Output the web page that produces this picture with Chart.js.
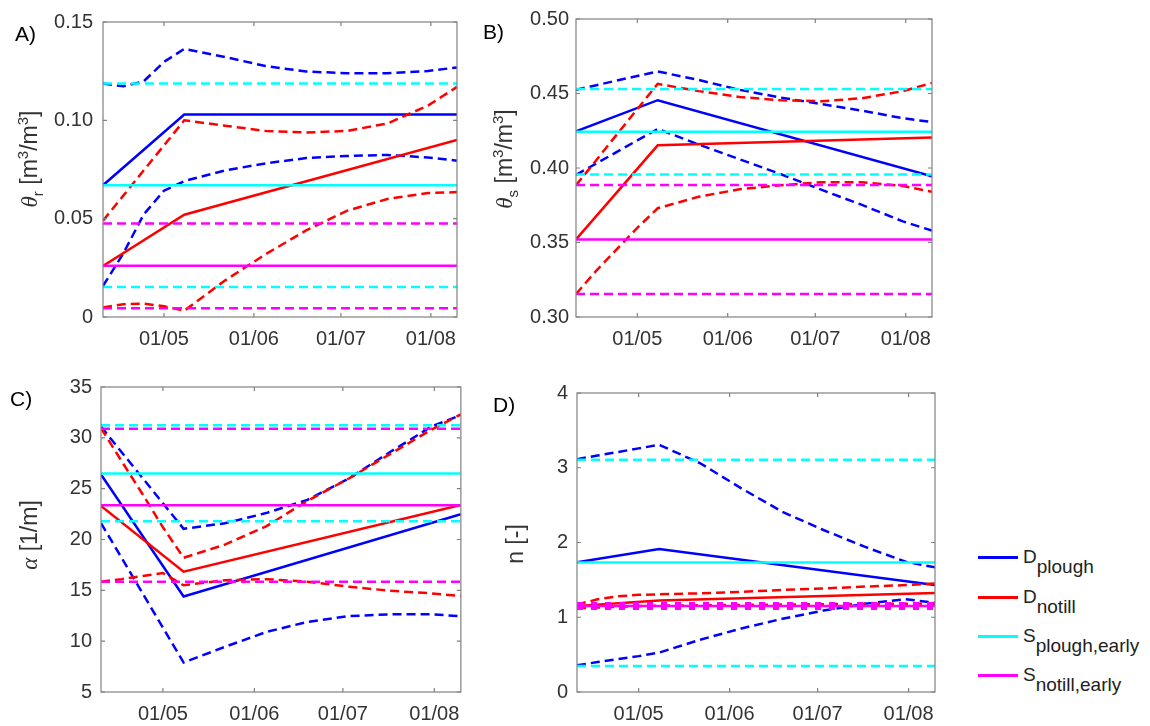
<!DOCTYPE html>
<html>
<head>
<meta charset="utf-8">
<title>Evolución de parámetros</title>
<script src="https://cdn.jsdelivr.net/npm/chart.js@4.4.0/dist/chart.umd.min.js"></script>
<style>
    body { margin: 0; background: #fff; font-family: 'Liberation Sans', Arial, sans-serif; }
    #wrap { position: relative; width: 1150px; height: 726px; overflow: hidden; }
    canvas { position: absolute; }
    .letter { position: absolute; font-size: 21px; line-height: 21px; color: #000; }
    .ytitle { position: absolute; font-size: 23px; line-height: 23px; color: #333; white-space: nowrap;
              transform: translate(-50%, -50%) rotate(-90deg); }
    .gr { font-family: 'Liberation Serif', serif; font-style: italic; }
    .sb { position: relative; top: 6px; font-size: 15px; }
    .sp { position: relative; top: -9px; font-size: 15px; }
    .lgline { position: absolute; left: 978px; width: 40px; height: 3px; }
    .lg { position: absolute; left: 1023px; font-size: 19px; line-height: 19px; color: #222; white-space: nowrap; }
    .lg span { position: relative; top: 10px; }
</style>
</head>
<body>
<div id="wrap">
    <canvas id="cA" width="470" height="350" style="left:0;top:0"></canvas>
    <canvas id="cB" width="480" height="350" style="left:470px;top:0"></canvas>
    <canvas id="cC" width="470" height="366" style="left:0;top:360px"></canvas>
    <canvas id="cD" width="480" height="366" style="left:470px;top:360px"></canvas>

    <div class="letter" style="left:15px;top:23px">A)</div>
    <div class="letter" style="left:483px;top:21px">B)</div>
    <div class="letter" style="left:10px;top:388px">C)</div>
    <div class="letter" style="left:493px;top:394px">D)</div>

    <div class="ytitle" style="left:30px;top:159px"><span class="gr">θ</span><span class="sb">r</span> [m<span class="sp">3</span>/m<span class="sp">3</span>]</div>
    <div class="ytitle" style="left:505px;top:159px"><span class="gr">θ</span><span class="sb">s</span> [m<span class="sp">3</span>/m<span class="sp">3</span>]</div>
    <div class="ytitle" style="left:29px;top:535px"><span class="gr">α</span> [1/m]</div>
    <div class="ytitle" style="left:515px;top:544px">n [-]</div>

    <div class="lgline" style="top:556px;background:#0000ff"></div>
    <div class="lgline" style="top:596px;background:#ff0000"></div>
    <div class="lgline" style="top:635px;background:#00ffff"></div>
    <div class="lgline" style="top:674px;background:#ff00ff"></div>
    <div class="lg" style="top:547px">D<span>plough</span></div>
    <div class="lg" style="top:587px">D<span>notill</span></div>
    <div class="lg" style="top:626px">S<span>plough,early</span></div>
    <div class="lg" style="top:665px">S<span>notill,early</span></div>
</div>

<script>
// Fechas (dd/mm)
const xRange = ['10/04', '10/08'];
const solidDates = ['10/04', '08/05', '10/08'];
const boundDates = ['10/04', '17/04', '24/04', '01/05', '08/05', '22/05', '05/06', '19/06', '03/07', '17/07', '31/07', '10/08'];
const monthTicks = ['01/05', '01/06', '01/07', '01/08'];

// A) theta_r
const thetaR_ticks = [0, 0.05, 0.10, 0.15];
const thetaR_Dplough = [0.067, 0.103, 0.103];
const thetaR_Dplough_hi = [0.1187, 0.1173, 0.1198, 0.1297, 0.1363, 0.1322, 0.1276, 0.1248, 0.1240, 0.1240, 0.1251, 0.1269];
const thetaR_Dplough_lo = [0.0158, 0.0323, 0.0521, 0.0642, 0.0691, 0.0745, 0.0781, 0.0808, 0.0819, 0.0824, 0.0811, 0.0795];
const thetaR_Dnotill = [0.026, 0.052, 0.090];
const thetaR_Dnotill_hi = [0.049, 0.0617, 0.0745, 0.0872, 0.100, 0.0973, 0.0946, 0.0938, 0.0946, 0.0984, 0.1075, 0.117];
const thetaR_Dnotill_lo = [0.0048, 0.0065, 0.0068, 0.0055, 0.0032, 0.0185, 0.0319, 0.0440, 0.0540, 0.0600, 0.0630, 0.0635];
const thetaR_Splough = [0.1187, 0.067, 0.0152];   // superior, ajuste, inferior
const thetaR_Snotill = [0.0476, 0.026, 0.0045];

// B) theta_s
const thetaS_ticks = [0.30, 0.35, 0.40, 0.45, 0.50];
const thetaS_Dplough = [0.4246, 0.4455, 0.3945];
const thetaS_Dplough_hi = [0.4525, 0.4556, 0.4587, 0.4617, 0.4648, 0.4591, 0.4525, 0.4473, 0.4429, 0.4385, 0.4334, 0.4308];
const thetaS_Dplough_lo = [0.3954, 0.4031, 0.4108, 0.4185, 0.4262, 0.4158, 0.4059, 0.3960, 0.3855, 0.3752, 0.3642, 0.3580];
const thetaS_Dnotill = [0.3521, 0.4152, 0.4204];
const thetaS_Dnotill_hi = [0.3884, 0.4054, 0.4225, 0.4395, 0.4565, 0.4516, 0.4477, 0.4455, 0.4448, 0.4468, 0.4516, 0.4571];
const thetaS_Dnotill_lo = [0.3154, 0.3312, 0.3455, 0.3598, 0.3730, 0.3807, 0.3857, 0.3884, 0.3905, 0.3905, 0.3879, 0.3840];
const thetaS_Splough = [0.453, 0.4244, 0.3956];
const thetaS_Snotill = [0.3886, 0.352, 0.3154];

// C) alpha
const alpha_ticks = [5, 10, 15, 20, 25, 30, 35];
const alpha_Dplough = [26.4, 14.4, 22.48];
const alpha_Dplough_hi = [31.1, 28.59, 26.08, 23.56, 21.05, 21.6, 22.6, 23.9, 26.0, 28.6, 31.1, 32.25];
const alpha_Dplough_lo = [21.6, 18.2, 14.75, 11.33, 7.9, 9.44, 10.9, 11.9, 12.46, 12.64, 12.64, 12.46];
const alpha_Dnotill = [23.3, 16.83, 23.4];
const alpha_Dnotill_hi = [30.96, 27.7, 24.5, 21.2, 18.2, 19.5, 21.3, 23.8, 26.0, 28.4, 30.8, 32.3];
const alpha_Dnotill_lo = [15.85, 16.1, 16.4, 16.7, 15.5, 16.0, 16.1, 15.85, 15.36, 14.96, 14.7, 14.44];
const alpha_Splough = [31.25, 26.5, 21.79];
const alpha_Snotill = [30.89, 23.37, 15.84];

// D) n
const n_ticks = [0, 1, 2, 3, 4];
const n_Dplough = [1.734, 1.913, 1.43];
const n_Dplough_hi = [3.115, 3.163, 3.211, 3.259, 3.307, 3.06, 2.725, 2.41, 2.167, 1.944, 1.743, 1.667];
const n_Dplough_lo = [0.358, 0.40, 0.44, 0.48, 0.527, 0.70, 0.85, 0.98, 1.09, 1.18, 1.24, 1.195];
const n_Dnotill = [1.15, 1.225, 1.325];
const n_Dnotill_hi = [1.17, 1.24, 1.28, 1.30, 1.307, 1.32, 1.34, 1.365, 1.385, 1.41, 1.43, 1.45];
const n_Dnotill_lo = [1.12, 1.13, 1.14, 1.15, 1.155, 1.16, 1.165, 1.17, 1.175, 1.18, 1.18, 1.18];
const n_Splough = [3.106, 1.734, 0.349];
const n_Snotill = [1.17, 1.15, 1.13];

const BLUE = '#0000ff', RED = '#ff0000', CYAN = '#00ffff', MAGENTA = '#ff00ff';
const FONT = "'Liberation Sans', Arial, sans-serif";
const monthStart = [0, 31, 59, 90, 120, 151, 181, 212, 243, 273, 304, 334];

function toDoy(s) {
    const [d, m] = s.split('/').map(Number);
    return monthStart[m - 1] + d;
}

function line(dates, values, color, dashed, dash, width) {
    return {
        data: dates.map((d, i) => ({ x: toDoy(d), y: values[i] })),
        borderColor: color,
        borderWidth: width || 2.5,
        borderDash: dashed ? (dash || [9, 5]) : [],
        pointRadius: 0,
        fill: false
    };
}

function flat(value, color, dashed, dash, width) {
    return line(xRange, [value, value], color, dashed, dash, width);
}

// el primer dataset queda encima
function panelDatasets(dP, dPHi, dPLo, dN, dNHi, dNLo, sP, sN, sDash, sWidth) {
    return [
        flat(sN[1], MAGENTA), flat(sN[0], MAGENTA, true, sDash, sWidth), flat(sN[2], MAGENTA, true, sDash, sWidth),
        flat(sP[1], CYAN), flat(sP[0], CYAN, true), flat(sP[2], CYAN, true),
        line(solidDates, dN, RED), line(boundDates, dNHi, RED, true), line(boundDates, dNLo, RED, true),
        line(solidDates, dP, BLUE), line(boundDates, dPHi, BLUE, true), line(boundDates, dPLo, BLUE, true)
    ];
}

// marco estilo MATLAB con marcas hacia dentro
const boxPlugin = {
    id: 'matlabBox',
    afterDatasetsDraw(chart) {
        const { ctx, chartArea: a, scales } = chart;
        const tl = 4;
        ctx.save();
        ctx.strokeStyle = '#808080';
        ctx.lineWidth = 1.2;
        ctx.strokeRect(a.left, a.top, a.right - a.left, a.bottom - a.top);
        ctx.beginPath();
        scales.x.ticks.forEach(t => {
            const x = scales.x.getPixelForValue(t.value);
            ctx.moveTo(x, a.bottom); ctx.lineTo(x, a.bottom - tl);
            ctx.moveTo(x, a.top); ctx.lineTo(x, a.top + tl);
        });
        scales.y.ticks.forEach(t => {
            const y = scales.y.getPixelForValue(t.value);
            ctx.moveTo(a.left, y); ctx.lineTo(a.left + tl, y);
            ctx.moveTo(a.right, y); ctx.lineTo(a.right - tl, y);
        });
        ctx.stroke();
        ctx.restore();
    }
};

function buildChart(id, cfg) {
    new Chart(document.getElementById(id), {
        type: 'line',
        data: { datasets: cfg.datasets },
        options: {
            responsive: false,
            animation: false,
            layout: { padding: { top: cfg.padTop, right: cfg.padRight, left: 0, bottom: 0 } },
            plugins: { legend: { display: false }, tooltip: { enabled: false } },
            scales: {
                x: {
                    type: 'linear',
                    min: toDoy(xRange[0]),
                    max: toDoy(xRange[1]),
                    grid: { display: false, drawTicks: false },
                    border: { display: false },
                    afterBuildTicks: s => { s.ticks = monthTicks.map(t => ({ value: toDoy(t) })); },
                    afterFit: s => { s.height = cfg.xHeight; },
                    ticks: {
                        autoSkip: false, maxRotation: 0, padding: 10, color: '#333',
                        font: { size: 20, family: FONT },
                        callback: (v, i) => monthTicks[i]
                    }
                },
                y: {
                    min: cfg.yTicks[0],
                    max: cfg.yTicks[cfg.yTicks.length - 1],
                    grid: { display: false, drawTicks: false },
                    border: { display: false },
                    afterBuildTicks: s => { s.ticks = cfg.yTicks.map(v => ({ value: v })); },
                    afterFit: s => { s.width = cfg.yWidth; },
                    ticks: {
                        padding: cfg.yPad, color: '#333',
                        font: { size: 20, family: FONT },
                        callback: cfg.fmt
                    }
                }
            }
        },
        plugins: [boxPlugin]
    });
}

const fmt2 = v => (v === 0 ? '0' : v.toFixed(2));
const fmt0 = v => String(v);

buildChart('cA', {
    yTicks: thetaR_ticks, fmt: fmt2, yWidth: 103, yPad: 10, padTop: 14, padRight: 13, xHeight: 33,
    datasets: panelDatasets(thetaR_Dplough, thetaR_Dplough_hi, thetaR_Dplough_lo,
        thetaR_Dnotill, thetaR_Dnotill_hi, thetaR_Dnotill_lo, thetaR_Splough, thetaR_Snotill)
});

buildChart('cB', {
    yTicks: thetaS_ticks, fmt: fmt2, yWidth: 106, yPad: 7, padTop: 14, padRight: 18, xHeight: 33,
    datasets: panelDatasets(thetaS_Dplough, thetaS_Dplough_hi, thetaS_Dplough_lo,
        thetaS_Dnotill, thetaS_Dnotill_hi, thetaS_Dnotill_lo, thetaS_Splough, thetaS_Snotill)
});

buildChart('cC', {
    yTicks: alpha_ticks, fmt: fmt0, yWidth: 101, yPad: 9, padTop: 27, padRight: 9, xHeight: 34,
    datasets: panelDatasets(alpha_Dplough, alpha_Dplough_hi, alpha_Dplough_lo,
        alpha_Dnotill, alpha_Dnotill_hi, alpha_Dnotill_lo, alpha_Splough, alpha_Snotill)
});

buildChart('cD', {
    yTicks: n_ticks, fmt: fmt0, yWidth: 107, yPad: 9, padTop: 33, padRight: 15, xHeight: 34,
    datasets: panelDatasets(n_Dplough, n_Dplough_hi, n_Dplough_lo,
        n_Dnotill, n_Dnotill_hi, n_Dnotill_lo, n_Splough, n_Snotill, [6, 8], 5)
});
</script>
</body>
</html>
